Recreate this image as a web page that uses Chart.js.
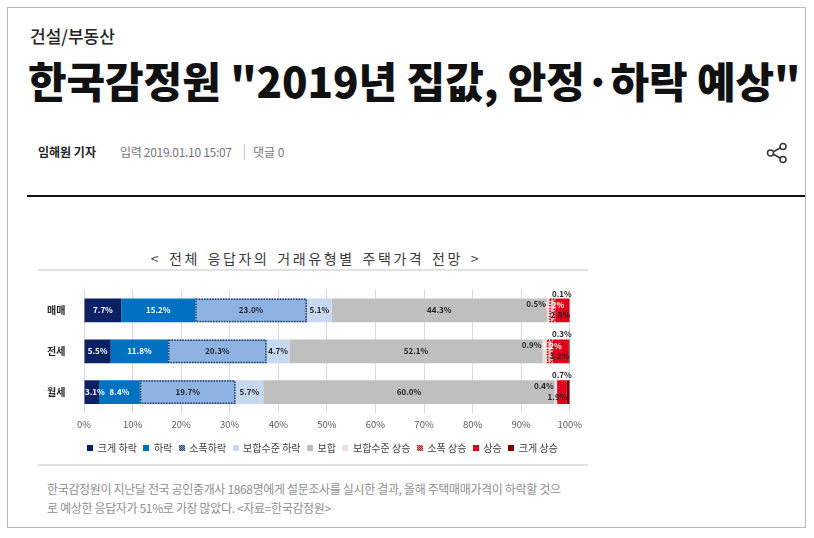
<!DOCTYPE html>
<html><head><meta charset="utf-8">
<script src="https://cdn.jsdelivr.net/npm/chart.js@4.4.1/dist/chart.umd.min.js"></script>
<style>
html,body{margin:0;padding:0;background:#fff;}
body{width:814px;height:538px;position:relative;overflow:hidden;font-family:"Noto Sans CJK KR","Noto Sans",sans-serif;}
.abs{position:absolute;white-space:nowrap;}
.frame{left:7px;top:7px;width:799px;height:521px;border:1px solid #b8b8b8;box-sizing:border-box;}
.cat{left:30px;top:25px;font-size:17px;line-height:22px;color:#222;font-weight:500;}
.head{left:28px;top:53px;font-size:42px;line-height:54px;color:#111;font-weight:900;letter-spacing:-0.1px;}
.by{left:38px;top:143px;font-size:12px;line-height:18px;color:#222;font-weight:700;}
.meta{left:120px;top:143px;font-size:12px;line-height:18px;color:#777;letter-spacing:-0.3px;}
.sep{left:244px;top:144px;width:1px;height:16px;background:#ccc;}
.cmt{left:253px;top:143px;font-size:12px;line-height:18px;color:#777;}
.rule{left:27px;top:195px;width:778px;height:2px;background:#111;}
.ctitle{left:38px;top:248px;width:556px;text-align:center;font-size:14px;line-height:20px;color:#3a3a3a;letter-spacing:2.6px;word-spacing:2px;}
.hl{left:38px;width:550px;height:2px;background:#e2e2e2;}
.cap{left:47px;top:480px;font-size:12px;line-height:18.5px;color:#8f8f8f;letter-spacing:-0.35px;}
#wrap{position:absolute;left:38px;top:276px;width:550px;height:187px;}
</style></head>
<body>
<div class="abs frame"></div>
<div class="abs cat">건설/부동산</div>
<div class="abs head">한국감정원 "2019년 집값, 안정·하락 예상"</div>
<div class="abs by">임해원 기자</div>
<div class="abs meta">입력 2019.01.10 15:07</div>
<div class="abs sep"></div>
<div class="abs cmt">댓글 0</div>
<svg class="abs" style="left:764px;top:140px" width="26" height="26" viewBox="0 0 26 26">
<g fill="none" stroke="#333" stroke-width="1.5">
<line x1="7" y1="13" x2="18" y2="7"/><line x1="7" y1="13" x2="18" y2="19"/>
<circle cx="19" cy="6.5" r="3" fill="#fff"/><circle cx="6.5" cy="13" r="3" fill="#fff"/><circle cx="19" cy="19.5" r="3" fill="#fff"/>
</g></svg>
<div class="abs rule"></div>
<div class="abs ctitle">&lt; 전체 응답자의 거래유형별 주택가격 전망 &gt;</div>
<div class="abs hl" style="top:269px"></div>
<div id="wrap"><canvas id="c"></canvas></div>
<div class="abs hl" style="top:464px"></div>
<div class="abs cap">한국감정원이 지난달 전국 공인중개사 1868명에게 설문조사를 실시한 결과, 올해 주택매매가격이 하락할 것으<br>로 예상한 응답자가 51%로 가장 많았다. &lt;자료=한국감정원&gt;</div>
<script>
const categories = ['매매', '전세', '월세'];
const seriesNames = ['크게 하락', '하락', '소폭하락', '보합수준 하락', '보합', '보합수준 상승', '소폭 상승', '상승', '크게 상승'];
const bigFall    = [7.7, 5.5, 3.1];
const fall       = [15.2, 11.8, 8.4];
const slightFall = [23.0, 20.3, 19.7];
const flatFall   = [5.1, 4.7, 5.7];
const flat       = [44.3, 52.1, 60.0];
const flatRise   = [0.5, 0.9, 0.4];
const slightRise = [1.2, 1.2, 0.1];
const rise       = [2.9, 3.2, 1.9];
const bigRise    = [0.1, 0.3, 0.7];
const seriesValues = [bigFall, fall, slightFall, flatFall, flat, flatRise, slightRise, rise, bigRise];

const colors = ['#0c2163', '#0070c0', '#8db3e2', '#c6d9f0', '#bfbfbf', '#f2dcdb', '#e6b9b8', '#e2001a', '#7a0000'];
const labelColors = ['#fff', '#fff', '#262626', '#262626', '#262626', '#262626', '#fff', '#262626', '#262626'];
const dotBorder = {2: '#1f3864', 6: '#c00000'};
const FONT = '"Noto Sans CJK KR", "Noto Sans", sans-serif';

function marker(fill, dot) {
  const c = document.createElement('canvas');
  c.width = 6; c.height = 6;
  const g = c.getContext('2d');
  g.fillStyle = fill; g.fillRect(0, 0, 6, 6);
  if (dot) {
    g.fillStyle = dot;
    for (let y = 0; y < 6; y++) for (let x = (y % 2); x < 6; x += 2) g.fillRect(x, y, 1, 1);
  }
  return c;
}
const markers = colors.map((c, i) => marker(c, dotBorder[i]));

const legendCenter = {
  id: 'legendCenter',
  afterLayout(chart) {
    const lg = chart.legend, ca = chart.chartArea;
    if (!lg || !ca) return;
    const d = ((ca.left + ca.right) / 2 - 4) - (lg.left + lg.right) / 2;
    lg.left += d; lg.right += d;
  }
};

const segLabels = {
  id: 'segLabels',
  afterDatasetsDraw(chart) {
    const ctx = chart.ctx;
    ctx.save();
    chart.data.datasets.forEach((ds, di) => {
      const meta = chart.getDatasetMeta(di);
      meta.data.forEach((bar, i) => {
        const x0 = Math.min(bar.base, bar.x), x1 = Math.max(bar.base, bar.x);
        const top = bar.y - bar.height / 2;
        if (dotBorder[di] && x1 - x0 > 2) {
          ctx.setLineDash([1.5, 1.2]);
          ctx.lineWidth = 1.5;
          ctx.strokeStyle = dotBorder[di];
          ctx.strokeRect(x0 + 0.75, top + 0.75, x1 - x0 - 1.5, bar.height - 1.5);
          ctx.setLineDash([]);
        }
      });
    });
    ctx.font = 'bold 8px ' + FONT;
    ctx.textBaseline = 'middle';
    chart.data.datasets.forEach((ds, di) => {
      const meta = chart.getDatasetMeta(di);
      meta.data.forEach((bar, i) => {
        const v = ds.data[i];
        const txt = v.toFixed(1) + '%';
        const tw = ctx.measureText(txt).width;
        const x0 = Math.min(bar.base, bar.x), x1 = Math.max(bar.base, bar.x);
        const top = bar.y - bar.height / 2;
        let x, y, align = 'center';
        if (di <= 4) { x = Math.max((x0 + x1) / 2, x0 + tw / 2 + 0.5); y = bar.y; }
        else if (di === 5) { x = x0 - 1; y = bar.y - 6; align = 'right'; }
        else if (di === 6) { if (v < 1) return; x = (x0 + x1) / 2 + 2; y = bar.y - 5; }
        else if (di === 7) { x = x1 + 1; y = bar.y + 5; align = 'right'; }
        else { x = x1 + 2; y = top - 5; align = 'right'; }
        ctx.textAlign = align;
        ctx.fillStyle = labelColors[di];
        ctx.fillText(txt, x, y);
      });
    });
    ctx.restore();
  }
};

new Chart(document.getElementById('c'), {
  type: 'bar',
  data: {
    labels: categories,
    datasets: seriesValues.map((d, i) => ({
      label: seriesNames[i],
      data: d,
      backgroundColor: colors[i],
      borderWidth: 0,
      barPercentage: 0.58,
      categoryPercentage: 1
    }))
  },
  options: {
    indexAxis: 'y',
    responsive: true,
    maintainAspectRatio: false,
    animation: false,
    layout: {padding: {top: 14, right: 18, left: 9, bottom: 0}},
    scales: {
      x: {
        stacked: true, min: 0, max: 100,
        ticks: {stepSize: 10, callback: v => v + '%', color: '#595959', font: {size: 9.5, family: FONT}, padding: 6},
        grid: {color: '#d9d9d9', drawTicks: false},
        border: {display: false}
      },
      y: {
        stacked: true,
        ticks: {color: '#262626', font: {size: 10, weight: 'bold', family: FONT}, padding: 0, crossAlign: 'far'},
        grid: {display: false},
        border: {display: false},
        afterFit: s => { s.width = 37; }
      }
    },
    plugins: {
      tooltip: {enabled: false},
      legend: {
        position: 'bottom',
        labels: {
          usePointStyle: true,
          boxWidth: 5, boxHeight: 5,
          padding: 7,
          color: '#404040',
          font: {size: 10, family: FONT},
          generateLabels: chart => chart.data.datasets.map((ds, i) => ({
            text: ds.label, pointStyle: markers[i], fillStyle: colors[i],
            strokeStyle: colors[i], lineWidth: 0, datasetIndex: i, hidden: false, fontColor: '#404040'
          }))
        }
      }
    }
  },
  plugins: [segLabels, legendCenter]
});
</script>
</body></html>
